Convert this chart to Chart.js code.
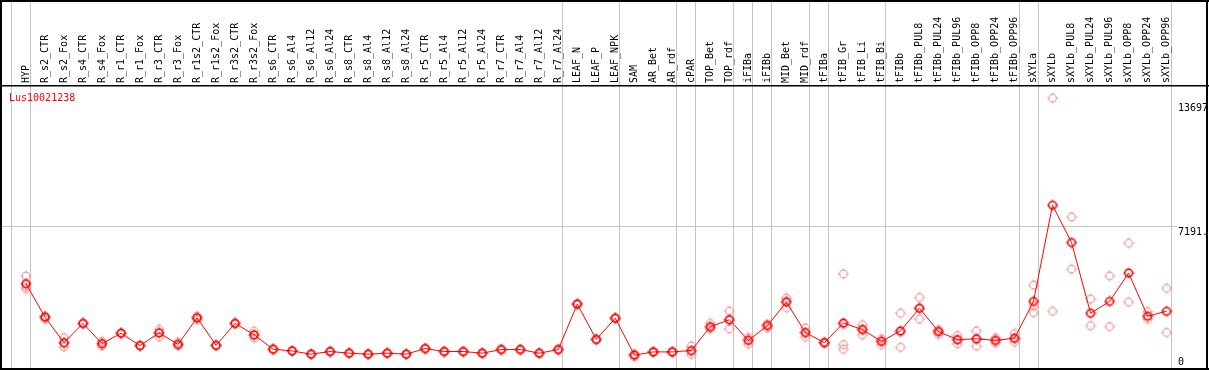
<!DOCTYPE html>
<html>
<head>
<meta charset="utf-8">
<script src="https://cdn.jsdelivr.net/npm/chart.js@4"></script>
<style>
  html, body { margin: 0; padding: 0; background: #fff; }
  canvas { display: block; }
</style>
</head>
<body>
<canvas id="chart" width="1209" height="370"></canvas>
<script>
const geneId = 'Lus10021238';

const categories = [
  'HYP', 'R_s2_CTR', 'R_s2_Fox', 'R_s4_CTR', 'R_s4_Fox', 'R_r1_CTR', 'R_r1_Fox',
  'R_r3_CTR', 'R_r3_Fox', 'R_r1s2_CTR', 'R_r1s2_Fox', 'R_r3s2_CTR', 'R_r3s2_Fox',
  'R_s6_CTR', 'R_s6_Al4', 'R_s6_Al12', 'R_s6_Al24', 'R_s8_CTR', 'R_s8_Al4', 'R_s8_Al12',
  'R_s8_Al24', 'R_r5_CTR', 'R_r5_Al4', 'R_r5_Al12', 'R_r5_Al24', 'R_r7_CTR', 'R_r7_Al4',
  'R_r7_Al12', 'R_r7_Al24', 'LEAF_N', 'LEAF_P', 'LEAF_NPK', 'SAM', 'AR_Bet', 'AR_rdf',
  'cPAR', 'TOP_Bet', 'TOP_rdf', 'iFIBa', 'iFIBb', 'MID_Bet', 'MID_rdf', 'tFIBa',
  'tFIB_Gr', 'tFIB_Li', 'tFIB_Bi', 'tFIBb', 'tFIBb_PUL8', 'tFIBb_PUL24', 'tFIBb_PUL96',
  'tFIBb_OPP8', 'tFIBb_OPP24', 'tFIBb_OPP96', 'sXYLa', 'sXYLb', 'sXYLb_PUL8',
  'sXYLb_PUL24', 'sXYLb_PUL96', 'sXYLb_OPP8', 'sXYLb_OPP24', 'sXYLb_OPP96'
];

// mean expression per sample
const means = [
  4154, 2404, 1065, 2074, 1014, 1560, 911, 1580, 978, 2368, 926, 2074, 1477,
  721, 633, 463, 602, 515, 463, 515, 463, 757, 602, 602, 515, 705, 705, 515, 705,
  3088, 1235, 2352, 412, 582, 582, 654, 1904, 2265, 1184, 1956, 3191, 1596, 1065,
  2095, 1750, 1132, 1683, 2867, 1647, 1220, 1271, 1184, 1302,
  3227, 8271, 6315, 2610, 3227, 4720, 2455, 2712
];

// individual replicates per sample
const replicates = [
  [4560, 4000, 3900], [2300, 2450, 2460], [1323, 1033, 839], [2050, 2080, 2090],
  [1132, 1020, 890], [1540, 1560, 1580], [900, 910, 925], [1765, 1600, 1374],
  [1085, 960, 890], [2455, 2385, 2265], [940, 926, 910], [2090, 2074, 2060],
  [1663, 1466, 1302], [740, 720, 700], [650, 633, 615], [480, 463, 446],
  [620, 600, 585], [530, 515, 500], [480, 463, 446], [530, 515, 500],
  [478, 463, 448], [775, 757, 740], [620, 600, 585], [618, 602, 586],
  [530, 515, 500], [720, 705, 690], [720, 705, 690], [530, 515, 500],
  [722, 705, 688], [3110, 3088, 3066], [1250, 1235, 1220], [2370, 2352, 2334],
  [480, 430, 324], [600, 582, 564], [610, 582, 554], [890, 624, 448],
  [2074, 1852, 1786], [2728, 2281, 1786], [1338, 1221, 993], [2043, 2008, 1817],
  [3412, 3263, 2898], [1837, 1597, 1354], [1090, 1065, 1040], [4668, 2029, 962, 721],
  [2007, 1766, 1477], [1271, 1163, 962], [2610, 1615, 824], [3433, 2867, 2301],
  [1750, 1683, 1508], [1441, 1226, 993], [1683, 1240, 890], [1323, 1184, 1045],
  [1544, 1266, 1096], [4082, 2985, 2640], [13881, 2712], [7654, 4926],
  [3346, 1956], [4565, 1904], [6279, 3191], [2692, 2301], [3912, 1596]
];

// a grey separator is drawn after each of these samples (and one before the first)
const groupEnds = [
  'HYP', 'R_r7_Al24', 'LEAF_NPK', 'AR_rdf', 'cPAR', 'TOP_rdf', 'iFIBa', 'iFIBb',
  'MID_rdf', 'tFIBa', 'tFIB_Bi', 'tFIBb_OPP96', 'sXYLa', 'sXYLb_OPP96'
];

const yTickValues = [0, 7191.5, 13697];
const yTickLabels = ['0', '7191.', '13697'];

const monoFont = '10px "DejaVu Sans Mono", monospace';

function makeMarker(color, width) {
  const c = document.createElement('canvas');
  c.width = 12; c.height = 12;
  const g = c.getContext('2d');
  g.strokeStyle = color;
  g.lineWidth = width;
  g.beginPath();
  g.arc(6, 6, 3.8, 0, Math.PI * 2);
  g.stroke();
  g.lineWidth = 1;
  g.beginPath();
  g.moveTo(6, 0.5); g.lineTo(6, 2);
  g.moveTo(6, 10); g.lineTo(6, 11.5);
  g.moveTo(0.5, 6); g.lineTo(2, 6);
  g.moveTo(10, 6); g.lineTo(11.5, 6);
  g.stroke();
  return c;
}

const repPoints = [];
replicates.forEach((reps, i) => {
  reps.forEach(v => repPoints.push({ x: categories[i], y: v }));
});

const frame = {
  id: 'frame',
  beforeDraw(chart) {
    const { ctx, scales: { x, y } } = chart;
    ctx.save();
    ctx.strokeStyle = '#c4c4c4';
    ctx.lineWidth = 1;
    const bounds = [-1].concat(groupEnds.map(n => categories.indexOf(n)));
    bounds.forEach(i => {
      const px = Math.round(x.getPixelForValue(i) + 4) + 0.5;
      ctx.beginPath();
      ctx.moveTo(px, 0);
      ctx.lineTo(px, chart.height);
      ctx.stroke();
    });
    const gy = Math.round(y.getPixelForValue(yTickValues[1])) + 0.5;
    ctx.beginPath();
    ctx.moveTo(2, gy);
    ctx.lineTo(1177, gy);
    ctx.stroke();
    ctx.restore();
  },
  afterDraw(chart) {
    const { ctx, scales: { y } } = chart;
    ctx.save();
    ctx.fillStyle = '#000';
    ctx.fillRect(0, 0, chart.width, 2);
    ctx.fillRect(0, 0, 2, chart.height);
    ctx.fillRect(1206, 0, 2, chart.height);
    ctx.fillRect(0, 368, chart.width, 2);
    ctx.fillRect(0, 85, chart.width, 1.5);

    ctx.font = monoFont;
    ctx.textAlign = 'left';
    ctx.textBaseline = 'alphabetic';
    yTickValues.forEach((v, i) => {
      const py = Math.min(y.getPixelForValue(v) + 9, 365);
      ctx.fillText(yTickLabels[i], 1178, py);
    });

    ctx.fillStyle = '#ff0000';
    ctx.fillText(geneId, 9, 100.5);
    ctx.restore();
  }
};

new Chart(document.getElementById('chart'), {
  type: 'line',
  data: {
    labels: categories,
    datasets: [
      {
        data: means,
        borderColor: '#ff0000',
        borderWidth: 1,
        pointStyle: makeMarker('#ff0000', 1.6),
        pointRadius: 6,
        clip: false,
        tension: 0
      },
      {
        data: repPoints,
        showLine: false,
        pointStyle: makeMarker('#ee9999', 1.2),
        pointRadius: 6,
        clip: false
      }
    ]
  },
  options: {
    responsive: false,
    animation: false,
    events: [],
    layout: { padding: { left: 26, right: 42.4, top: 0, bottom: 2 } },
    plugins: { legend: { display: false }, tooltip: { enabled: false } },
    scales: {
      x: {
        type: 'category',
        position: 'top',
        offset: false,
        border: { display: false },
        grid: { display: false, drawTicks: false },
        ticks: {
          autoSkip: false,
          minRotation: 90,
          maxRotation: 90,
          padding: 3,
          labelOffset: 12,
          color: '#000',
          font: { family: '"DejaVu Sans Mono", monospace', size: 10 }
        },
        afterFit(scale) { scale.height = 86; }
      },
      y: {
        display: false,
        min: 0,
        max: 13697 * 1.06
      }
    }
  },
  plugins: [frame]
});
</script>
</body>
</html>
